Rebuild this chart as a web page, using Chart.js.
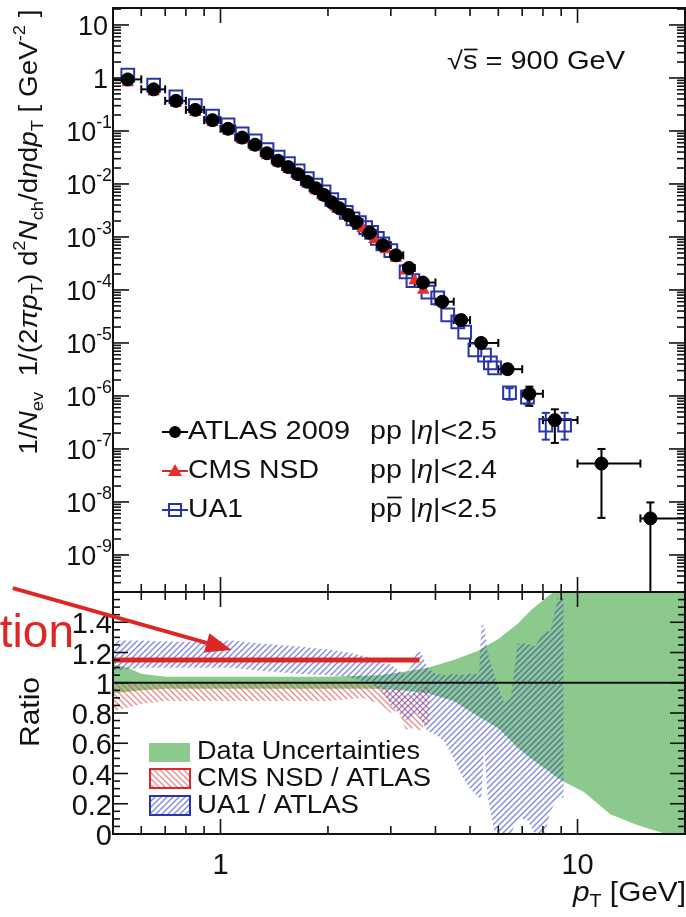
<!DOCTYPE html>
<html>
<head>
<meta charset="utf-8">
<script src="https://cdn.jsdelivr.net/npm/chart.js@4.4.1/dist/chart.umd.min.js"></script>
<style>
html, body { margin: 0; padding: 0; background: #fff; }
#wrap { position: relative; width: 686px; height: 917px; overflow: hidden; }
canvas { position: absolute; left: 0; }
#spectrum { top: 0; }
#ratio { top: 580px; }
</style>
</head>
<body>
<div id="wrap">
  <canvas id="spectrum" width="686" height="600"></canvas>
  <canvas id="ratio" width="686" height="337"></canvas>
</div>
<script>
// ---- spectrum, ATLAS 2009 (pT bin centres, bin edges, value, vertical errors)
const atlasPt = [0.55, 0.65, 0.75, 0.85, 0.95, 1.05, 1.15, 1.25, 1.35, 1.45, 1.55, 1.65, 1.75, 1.85, 1.95,
  2.05, 2.15, 2.28, 2.40, 2.62, 2.85, 3.10, 3.37, 3.69, 4.18, 4.72, 5.37, 6.37, 7.33, 8.64, 11.67, 16.0];
const atlasBinLo = [0.5, 0.6, 0.7, 0.8, 0.9, 1.0, 1.1, 1.2, 1.3, 1.4, 1.5, 1.6, 1.7, 1.8, 1.9,
  2.0, 2.1, 2.2, 2.35, 2.5, 2.75, 3.0, 3.25, 3.5, 4.0, 4.5, 5.0, 6.0, 7.0, 8.0, 10, 15];
const atlasBinHi = [0.6, 0.7, 0.8, 0.9, 1.0, 1.1, 1.2, 1.3, 1.4, 1.5, 1.6, 1.7, 1.8, 1.9, 2.0,
  2.1, 2.2, 2.35, 2.5, 2.75, 3.0, 3.25, 3.5, 4.0, 4.5, 5.0, 6.0, 7.0, 8.0, 10, 15, 20];
const atlasVal = [0.94, 0.61, 0.37, 0.25, 0.16, 0.11, 0.075, 0.055, 0.038, 0.0275, 0.0208, 0.0153, 0.011, 0.0083, 0.0062,
  0.0045, 0.0035, 0.0026, 0.0019, 0.0012, 0.0007, 0.00045, 2.6e-4, 1.38e-4, 6.0e-5, 2.7e-5, 1.0e-5, 3.2e-6, 1.1e-6, 3.5e-7, 5.3e-8, 4.9e-9];
const atlasErrLo = [null, null, null, null, null, null, null, null, null, null, null, null, null, null, null,
  null, null, null, null, null, null, null, null, null, null, null, 0.85e-5, 2.6e-6, 6.5e-7, 1.3e-7, 5e-9, 1e-12];
const atlasErrHi = [null, null, null, null, null, null, null, null, null, null, null, null, null, null, null,
  null, null, null, null, null, null, null, null, null, null, null, 1.18e-5, 3.9e-6, 1.5e-6, 5.6e-7, 1.0e-7, 9.8e-9];

// ---- spectrum, CMS NSD
const cmsPt = [0.55, 0.65, 0.75, 0.85, 0.95, 1.05, 1.15, 1.25, 1.35, 1.45, 1.55, 1.65, 1.75, 1.85, 1.95,
  2.1, 2.3, 2.5, 2.7, 2.9, 3.1, 3.3, 3.5, 3.7];
const cmsVal = [0.82, 0.55, 0.335, 0.226, 0.145, 0.1, 0.068, 0.05, 0.0345, 0.025, 0.019, 0.014, 0.01, 0.0075, 0.0057,
  0.0037, 0.0023, 0.00145, 0.0009, 0.00058, 0.0004, 0.00023, 0.00015, 0.0001];

// ---- spectrum, UA1
const ua1Pt = [0.55, 0.65, 0.75, 0.85, 0.95, 1.05, 1.15, 1.25, 1.35, 1.45, 1.55, 1.65, 1.75, 1.85, 1.95,
  2.05, 2.15, 2.25, 2.35, 2.45, 2.55, 2.65, 2.75, 2.85, 3.0,
  3.31, 3.46, 3.81, 4.06, 4.33, 4.62, 4.83, 5.16, 5.49, 5.70, 5.86, 6.45, 7.24, 8.15, 9.2];
const ua1Val = [1.13, 0.73, 0.44, 0.30, 0.19, 0.131, 0.0885, 0.065, 0.0445, 0.0322, 0.0241, 0.0177, 0.01265, 0.00955, 0.00707,
  0.00509, 0.00396, 0.00291, 0.0022, 0.00187, 0.0015, 0.00122, 0.00094, 0.00074, 0.00055,
  2.2e-4, 1.5e-4, 9.1e-5, 7.1e-5, 3.4e-5, 2.5e-5, 1.6e-5, 7.4e-6, 5.9e-6, 4.2e-6, 3.4e-6, 1.15e-6, 9.5e-7, 2.8e-7, 2.8e-7];
const ua1ErrLo = { 36: 8.5e-7, 37: 7e-7, 38: 1.5e-7, 39: 1.5e-7 };
const ua1ErrHi = { 36: 1.4e-6, 37: 1.3e-6, 38: 4.8e-7, 39: 4.8e-7 };

// ---- ratio panel bands
const dataBandX = [0.5, 0.55, 0.6, 0.7, 1.0, 2.0, 2.8, 3.2, 3.8, 4.5, 5.25, 6.0, 6.8, 7.4, 8.25, 8.8, 9.15, 10.4, 12.35, 14.7, 17.4, 20];
const dataBandHi = [1.12, 1.10, 1.06, 1.04, 1.04, 1.04, 1.05, 1.07, 1.10, 1.15, 1.21, 1.29, 1.39, 1.48, 1.57, 1.62, 1.70, 1.70, 1.70, 1.70, 1.70, 1.70];
const dataBandLo = [0.93, 0.94, 0.95, 0.96, 0.96, 0.96, 0.96, 0.95, 0.93, 0.88, 0.78, 0.70, 0.57, 0.50, 0.42, 0.37, 0.345, 0.28, 0.13, 0.06, 0.005, 0.0];

const cmsBandX = [0.5, 0.6, 0.7, 1.0, 1.5, 2.0, 2.5, 2.8, 3.0, 3.15, 3.3, 3.45, 3.6, 3.75, 3.85];
const cmsBandHi = [1.00, 0.99, 0.99, 1.00, 1.00, 1.00, 0.99, 0.98, 0.95, 0.96, 0.92, 0.93, 0.94, 0.98, 0.98];
const cmsBandLo = [0.81, 0.86, 0.88, 0.88, 0.88, 0.88, 0.90, 0.86, 0.80, 0.82, 0.69, 0.70, 0.68, 0.72, 0.72];

const ua1BandX = [0.5, 0.6, 0.8, 1.07, 1.3, 1.65, 2.0, 2.28, 2.6, 2.82, 3.0, 3.15, 3.3, 3.45, 3.55, 3.65, 3.8, 4.0,
  4.24, 4.5, 4.7, 5.0, 5.3, 5.38, 5.48, 5.6, 5.85, 6.2, 6.5, 6.8, 7.2, 7.6, 8.1, 8.4, 8.8, 9.15];
const ua1BandHi = [1.28, 1.28, 1.27, 1.28, 1.26, 1.24, 1.22, 1.20, 1.17, 1.13, 1.12, 1.08, 1.06, 1.12, 1.21, 1.20, 1.10, 1.06,
  1.05, 1.06, 1.05, 1.06, 1.06, 1.38, 1.38, 1.20, 1.05, 0.88, 0.90, 1.26, 1.26, 1.24, 1.34, 1.34, 1.56, 1.56];
const ua1BandLo = [1.08, 1.10, 1.10, 1.10, 1.08, 1.06, 1.05, 1.04, 1.00, 0.95, 0.85, 0.80, 0.75, 0.78, 0.80, 0.75, 0.68, 0.66,
  0.61, 0.50, 0.40, 0.30, 0.24, 0.24, 0.58, 0.25, 0.02, 0.00, 0.00, 0.10, 0.10, 0.00, 0.00, 0.15, 0.24, 0.24];

const unityX = [0.5, 20], unityY = [1, 1];
const extrapX = [0.5, 3.61], extrapY = [1.15, 1.15];
const arrowFrom = [0.262, 1.626], arrowTo = [1.075, 1.217];

// ---- axes
const xRange = [0.5, 20];
const yRange = [2e-10, 20.9];
const ratioRange = [0, 1.6];
const xTickValues = [1, 10];
const xTickLabels = ['1', '10'];
const yTickPowers = [1, 0, -1, -2, -3, -4, -5, -6, -7, -8, -9];
const yTickLabels = [['10', ''], ['1', ''], ['10', '-1'], ['10', '-2'], ['10', '-3'], ['10', '-4'],
  ['10', '-5'], ['10', '-6'], ['10', '-7'], ['10', '-8'], ['10', '-9']];
const ratioTickValues = [0, 0.2, 0.4, 0.6, 0.8, 1, 1.2, 1.4];
const ratioTickLabels = ['0', '0.2', '0.4', '0.6', '0.8', '1', '1.2', '1.4'];

const FONT = '"Liberation Sans", Arial, Helvetica, sans-serif';
const RED = 'rgb(222,38,38)';
const BLUE = 'rgb(40,52,175)';
const GREEN = 'rgb(140,201,140)';
const RATIO_TOP = 580;

function segFont(kind, size) {
  const s = (kind === 'sub' || kind === 'sup') ? size * 0.66 : size;
  return (kind === 'i' ? 'italic ' : '') + s.toFixed(1) + 'px ' + FONT;
}

// draws a run of text pieces [text, kind, bar]; width squeezes/stretches to a target
function richText(ctx, parts, x, y, size, opts) {
  opts = opts || {};
  let w = 0;
  parts.forEach(p => { ctx.font = segFont(p[1], size); w += ctx.measureText(p[0]).width; });
  const sx = opts.width ? opts.width / w : 1;
  ctx.save();
  ctx.translate(x, y);
  if (opts.rotate) ctx.rotate(opts.rotate);
  ctx.scale(sx, 1);
  let cx = opts.align === 'right' ? -w : (opts.align === 'center' ? -w / 2 : 0);
  ctx.textBaseline = 'middle';
  ctx.textAlign = 'left';
  ctx.fillStyle = opts.color || '#111';
  ctx.strokeStyle = opts.color || '#111';
  parts.forEach(p => {
    ctx.font = segFont(p[1], size);
    const dy = p[1] === 'sub' ? size * 0.32 : (p[1] === 'sup' ? -size * 0.4 : 0);
    const mw = ctx.measureText(p[0]).width;
    ctx.fillText(p[0], cx, dy);
    if (p[2] === 'bar') {
      ctx.lineWidth = size * 0.07;
      ctx.beginPath();
      ctx.moveTo(cx + 1, -size * 0.5);
      ctx.lineTo(cx + mw, -size * 0.5);
      ctx.stroke();
    }
    cx += mw;
  });
  ctx.restore();
}

function seg(ctx, x0, y0, x1, y1) {
  ctx.beginPath(); ctx.moveTo(x0, y0); ctx.lineTo(x1, y1); ctx.stroke();
}

function logXTicks(ctx, xs, area, major, minor) {
  for (let d = -1; d <= 1; d++) {
    for (let m = 1; m <= 9; m++) {
      const v = m * Math.pow(10, d);
      if (v <= xs.min || v >= xs.max) continue;
      const px = xs.getPixelForValue(v);
      const len = m === 1 ? major : minor;
      seg(ctx, px, area.top, px, area.top + len);
      seg(ctx, px, area.bottom, px, area.bottom - len);
    }
  }
}

function hatch(ctx, color, rising) {
  const c = document.createElement('canvas');
  c.width = 6; c.height = 6;
  const g = c.getContext('2d');
  g.strokeStyle = color;
  g.lineWidth = 1.4;
  g.beginPath();
  if (rising) {
    g.moveTo(0, 6); g.lineTo(6, 0); g.moveTo(-3, 3); g.lineTo(3, -3); g.moveTo(3, 9); g.lineTo(9, 3);
  } else {
    g.moveTo(0, 0); g.lineTo(6, 6); g.moveTo(-3, 3); g.lineTo(3, 9); g.moveTo(3, -3); g.lineTo(9, 3);
  }
  g.stroke();
  return ctx.createPattern(c, 'repeat');
}

function pts(xs, ys) {
  return xs.map((x, i) => ({ x: x, y: ys[i] }));
}

// ---------------- spectrum panel
const errorBars = {
  id: 'errorBars',
  beforeDatasetsDraw(chart) {
    const ctx = chart.ctx, xs = chart.scales.x, ys = chart.scales.y, a = chart.chartArea;
    ctx.save();
    ctx.beginPath();
    ctx.rect(a.left, a.top, a.right - a.left, a.bottom - a.top);
    ctx.clip();
    ctx.lineWidth = 2;
    ctx.strokeStyle = BLUE;
    ua1Pt.forEach((pt, i) => {
      if (ua1ErrLo[i] === undefined) return;
      const px = xs.getPixelForValue(pt);
      const y0 = ys.getPixelForValue(ua1ErrLo[i]), y1 = ys.getPixelForValue(ua1ErrHi[i]);
      seg(ctx, px, y0, px, y1);
      seg(ctx, px - 4, y0, px + 4, y0);
      seg(ctx, px - 4, y1, px + 4, y1);
    });
    ctx.strokeStyle = '#000';
    atlasPt.forEach((pt, i) => {
      const px = xs.getPixelForValue(pt), py = ys.getPixelForValue(atlasVal[i]);
      const x0 = xs.getPixelForValue(atlasBinLo[i]), x1 = xs.getPixelForValue(atlasBinHi[i]);
      seg(ctx, x0, py, x1, py);
      seg(ctx, x0, py - 4, x0, py + 4);
      seg(ctx, x1, py - 4, x1, py + 4);
      if (atlasErrLo[i] !== null) {
        const y0 = ys.getPixelForValue(atlasErrLo[i]), y1 = ys.getPixelForValue(atlasErrHi[i]);
        seg(ctx, px, y0, px, y1);
        seg(ctx, px - 4, y0, px + 4, y0);
        seg(ctx, px - 4, y1, px + 4, y1);
      }
    });
    ctx.restore();
  }
};

const spectrumDecor = {
  id: 'spectrumDecor',
  afterDraw(chart) {
    const ctx = chart.ctx, xs = chart.scales.x, ys = chart.scales.y, a = chart.chartArea;
    ctx.save();
    ctx.strokeStyle = '#111';
    ctx.lineWidth = 2;
    ctx.strokeRect(a.left, a.top, a.right - a.left, a.bottom - a.top);
    ctx.lineWidth = 1.6;
    logXTicks(ctx, xs, a, 15, 8);
    for (let e = -10; e <= 1; e++) {
      for (let m = 1; m <= 9; m++) {
        const v = m * Math.pow(10, e);
        if (v <= ys.min || v >= ys.max) continue;
        const py = ys.getPixelForValue(v);
        const len = m === 1 ? 16 : 8;
        seg(ctx, a.left, py, a.left + len, py);
        seg(ctx, a.right, py, a.right - len, py);
      }
    }
    // y tick labels
    yTickPowers.forEach((p, i) => {
      const py = ys.getPixelForValue(Math.pow(10, p)) + 3;
      const lab = yTickLabels[i];
      if (lab[1]) {
        richText(ctx, [[lab[0], 'n'], [lab[1], 'sup']], 112, py, 27, { align: 'right' });
      } else {
        richText(ctx, [[lab[0], 'n']], 108, py, 27, { align: 'right' });
      }
    });
    // y title
    richText(ctx, [['1/', 'n'], ['N', 'i'], ['ev', 'sub'], ['  1/(2', 'n'], ['π', 'i'], ['p', 'i'], ['T', 'sub'],
      [') d', 'n'], ['2', 'sup'], ['N', 'i'], ['ch', 'sub'], ['/d', 'n'], ['η', 'i'], ['d', 'n'], ['p', 'i'], ['T', 'sub'],
      [' [ GeV', 'n'], ['-2', 'sup'], [' ]', 'n']], 30, 232, 25, { align: 'center', rotate: -Math.PI / 2, width: 445 });
    // energy label
    richText(ctx, [['√', 'n'], ['s', 'n', 'bar'], [' = 900 GeV', 'n']], 447, 62, 25, { width: 178 });
    // legend
    const rows = [432, 471, 510];
    ctx.lineWidth = 2;
    ctx.strokeStyle = '#000';
    seg(ctx, 162, rows[0], 188, rows[0]);
    ctx.fillStyle = '#000';
    ctx.beginPath(); ctx.arc(175, rows[0], 6, 0, Math.PI * 2); ctx.fill();
    ctx.strokeStyle = RED;
    seg(ctx, 162, rows[1], 188, rows[1]);
    ctx.fillStyle = 'rgb(232,48,42)';
    ctx.beginPath(); ctx.moveTo(175, rows[1] - 7); ctx.lineTo(182, rows[1] + 5); ctx.lineTo(168, rows[1] + 5); ctx.closePath(); ctx.fill();
    ctx.strokeStyle = BLUE;
    seg(ctx, 162, rows[2], 188, rows[2]);
    ctx.strokeRect(169, rows[2] - 6, 12, 12);
    richText(ctx, [['ATLAS 2009', 'n']], 188, rows[0], 25, { width: 162 });
    richText(ctx, [['CMS NSD', 'n']], 188, rows[1], 25, { width: 131 });
    richText(ctx, [['UA1', 'n']], 188, rows[2], 25, { width: 55 });
    richText(ctx, [['pp |', 'n'], ['η', 'i'], ['|<2.5', 'n']], 370, rows[0], 25, { width: 127 });
    richText(ctx, [['pp |', 'n'], ['η', 'i'], ['|<2.4', 'n']], 370, rows[1], 25, { width: 127 });
    richText(ctx, [['p', 'n'], ['p', 'n', 'bar'], [' |', 'n'], ['η', 'i'], ['|<2.5', 'n']], 370, rows[2], 25, { width: 127 });
    ctx.restore();
  }
};

new Chart(document.getElementById('spectrum'), {
  type: 'scatter',
  data: {
    datasets: [
      { label: 'ATLAS 2009', data: pts(atlasPt, atlasVal), pointStyle: 'circle', pointRadius: 6.5,
        backgroundColor: '#000', borderColor: '#000', borderWidth: 1, order: 1 },
      { label: 'CMS NSD', data: pts(cmsPt, cmsVal), pointStyle: 'triangle', pointRadius: 6.5,
        backgroundColor: 'rgb(232,48,42)', borderColor: 'rgb(232,48,42)', borderWidth: 1, order: 2 },
      { label: 'UA1', data: pts(ua1Pt, ua1Val), pointStyle: 'rect', pointRadius: 9,
        backgroundColor: 'rgba(0,0,0,0)', borderColor: BLUE, borderWidth: 2, order: 3 }
    ]
  },
  options: {
    responsive: false,
    animation: false,
    devicePixelRatio: 1,
    events: [],
    layout: { autoPadding: false, padding: { left: 113, right: 1, top: 8, bottom: 8 } },
    plugins: { legend: { display: false }, tooltip: { enabled: false } },
    scales: {
      x: { type: 'logarithmic', min: xRange[0], max: xRange[1], bounds: 'data', display: false },
      y: { type: 'logarithmic', min: yRange[0], max: yRange[1], bounds: 'data', display: false }
    }
  },
  plugins: [errorBars, spectrumDecor]
});

// ---------------- ratio panel
const ratioCanvas = document.getElementById('ratio');
const rctx = ratioCanvas.getContext('2d');
const redHatch = hatch(rctx, 'rgba(232,60,60,0.6)', false);
const blueHatch = hatch(rctx, 'rgba(45,60,190,0.6)', true);

const ratioDecor = {
  id: 'ratioDecor',
  afterDraw(chart) {
    const ctx = chart.ctx, xs = chart.scales.x, ys = chart.scales.y, a = chart.chartArea;
    const gy = y => y - RATIO_TOP;
    ctx.save();
    ctx.strokeStyle = '#111';
    ctx.lineWidth = 2;
    ctx.strokeRect(a.left, a.top, a.right - a.left, a.bottom - a.top);
    ctx.lineWidth = 1.6;
    logXTicks(ctx, xs, a, 15, 8);
    for (let k = 0; k * 0.05 < ys.max; k++) {
      const py = ys.getPixelForValue(k * 0.05);
      const len = k % 4 === 0 ? 15 : 7;
      seg(ctx, a.left, py, a.left + len, py);
      seg(ctx, a.right, py, a.right - len, py);
    }
    ratioTickValues.forEach((v, i) => {
      richText(ctx, [[ratioTickLabels[i], 'n']], 112, ys.getPixelForValue(v) + 3, 29, { align: 'right' });
    });
    xTickValues.forEach((v, i) => {
      richText(ctx, [[xTickLabels[i], 'n']], xs.getPixelForValue(v), gy(866), 29, { align: 'center' });
    });
    richText(ctx, [['p', 'i'], ['T', 'sub'], [' [GeV]', 'n']], 573, gy(893), 28, { width: 113 });
    richText(ctx, [['Ratio', 'n']], 31, gy(712), 28, { align: 'center', rotate: -Math.PI / 2, width: 70 });

    // legend
    ctx.fillStyle = GREEN;
    ctx.fillRect(149, gy(743), 41, 19);
    ctx.fillStyle = redHatch;
    ctx.fillRect(149, gy(769), 41, 19);
    ctx.strokeStyle = RED; ctx.lineWidth = 2;
    ctx.strokeRect(150, gy(769), 40, 19);
    ctx.fillStyle = blueHatch;
    ctx.fillRect(149, gy(796), 41, 19);
    ctx.strokeStyle = BLUE;
    ctx.strokeRect(150, gy(796), 40, 19);
    richText(ctx, [['Data Uncertainties', 'n']], 197, gy(752), 25, { width: 223 });
    richText(ctx, [['CMS NSD / ATLAS', 'n']], 197, gy(779), 25, { width: 234 });
    richText(ctx, [['UA1 / ATLAS', 'n']], 197, gy(806), 25, { width: 162 });

    // annotation arrow
    const x0 = xs.getPixelForValue(arrowFrom[0]), y0 = ys.getPixelForValue(arrowFrom[1]);
    const x1 = xs.getPixelForValue(arrowTo[0]), y1 = ys.getPixelForValue(arrowTo[1]);
    const ang = Math.atan2(y1 - y0, x1 - x0);
    const hl = 26, hw = 10;
    const bx = x1 - hl * Math.cos(ang), by = y1 - hl * Math.sin(ang);
    ctx.strokeStyle = RED; ctx.fillStyle = RED; ctx.lineWidth = 4;
    seg(ctx, x0, y0, bx, by);
    ctx.beginPath();
    ctx.moveTo(x1, y1);
    ctx.lineTo(bx + hw * Math.sin(ang), by - hw * Math.cos(ang));
    ctx.lineTo(bx - hw * Math.sin(ang), by + hw * Math.cos(ang));
    ctx.closePath();
    ctx.fill();
    ctx.font = '46px ' + FONT;
    ctx.textAlign = 'right';
    ctx.textBaseline = 'alphabetic';
    ctx.fillText('tion', 74, gy(647));
    ctx.restore();
  }
};

function bandEdge(xs, ys, fill, color, order) {
  return { type: 'line', data: pts(xs, ys), borderWidth: 0, pointRadius: 0, tension: 0,
    fill: fill, backgroundColor: color, borderColor: 'rgba(0,0,0,0)', order: order };
}

new Chart(ratioCanvas, {
  type: 'line',
  data: {
    datasets: [
      bandEdge(dataBandX, dataBandLo, false, GREEN, 6),
      bandEdge(dataBandX, dataBandHi, '-1', GREEN, 6),
      bandEdge(cmsBandX, cmsBandLo, false, redHatch, 5),
      bandEdge(cmsBandX, cmsBandHi, '-1', redHatch, 5),
      bandEdge(ua1BandX, ua1BandLo, false, blueHatch, 4),
      bandEdge(ua1BandX, ua1BandHi, '-1', blueHatch, 4),
      { type: 'line', data: pts(unityX, unityY), borderColor: '#111', borderWidth: 2, pointRadius: 0, fill: false, order: 2 },
      { type: 'line', data: pts(extrapX, extrapY), borderColor: RED, borderWidth: 5, pointRadius: 0, fill: false, order: 1 }
    ]
  },
  options: {
    responsive: false,
    animation: false,
    devicePixelRatio: 1,
    events: [],
    layout: { autoPadding: false, padding: { left: 113, right: 1, top: 12, bottom: 83 } },
    plugins: { legend: { display: false }, tooltip: { enabled: false } },
    scales: {
      x: { type: 'logarithmic', min: xRange[0], max: xRange[1], bounds: 'data', display: false },
      y: { type: 'linear', min: ratioRange[0], max: ratioRange[1], bounds: 'data', display: false }
    }
  },
  plugins: [ratioDecor]
});
</script>
</body>
</html>
